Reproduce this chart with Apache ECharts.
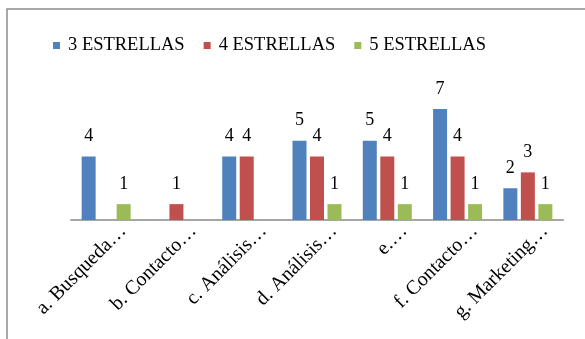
<!DOCTYPE html>
<html>
<head>
<meta charset="utf-8">
<script src="https://cdn.jsdelivr.net/npm/echarts@6/dist/echarts.min.js"></script>
<style>
	html, body { margin: 0; padding: 0; background: #fff; }
	#chart { width: 585px; height: 339px; }
</style>
</head>
<body>
<div id="chart"></div>
<script>
var categorias = ['a. Busqueda…', 'b. Contacto…', 'c. Análisis…', 'd. Análisis…', 'e.…', 'f. Contacto…', 'g. Marketing…'];
var series3 = [4, 0, 4, 5, 5, 7, 2];
var series4 = [0, 1, 4, 4, 4, 4, 3];
var series5 = [1, 0, 0, 1, 1, 1, 1];
var nombres = ['3 ESTRELLAS', '4 ESTRELLAS', '5 ESTRELLAS'];
var colores = ['#4f81bd', '#c0504d', '#9bbb59'];

var fuente = 'Times New Roman, Liberation Serif, serif';

function serie(nombre, datos, color) {
	return {
		name: nombre,
		type: 'bar',
		xAxisIndex: 0,
		yAxisIndex: 0,
		barWidth: 14,
		barGap: '25%',
		itemStyle: { color: color },
		label: {
			show: true,
			position: 'top',
			distance: 11,
			color: '#000',
			fontFamily: fuente,
			fontSize: 18,
			formatter: function (p) {
				return p.value ? p.value : '';
			}
		},
		data: datos
	};
}

var chart = echarts.init(document.getElementById('chart'));
chart.setOption({
	animation: false,
	color: colores,
	graphic: [{
		type: 'rect',
		shape: { x: 7, y: 9, width: 700, height: 500 },
		style: { fill: 'none', stroke: '#8c8c8c', lineWidth: 1.5 },
		silent: true
	}],
	legend: {
		left: 48,
		top: 31,
		itemWidth: 7,
		itemHeight: 7,
		itemGap: 19,
		icon: 'rect',
		textStyle: { fontFamily: fuente, fontSize: 18.5, color: '#000', padding: [0, 0, 0, 3] },
		data: nombres
	},
	grid: [
		{ left: 71, right: 22, top: 93, bottom: 119 },
		// rejilla desplazada solo para colocar las etiquetas giradas como en Excel
		{ left: 88, right: 5, top: 93, bottom: 119 }
	],
	xAxis: [
		{
			type: 'category',
			gridIndex: 0,
			data: categorias,
			axisLine: { lineStyle: { color: '#a6a6a6', width: 2 } },
			axisTick: { show: false },
			axisLabel: { show: false }
		},
		{
			type: 'category',
			gridIndex: 1,
			data: categorias,
			axisLine: { show: false },
			axisTick: { show: false },
			axisLabel: {
				rotate: 45,
				margin: 8,
				interval: 0,
				color: '#000',
				fontFamily: fuente,
				fontSize: 20
			}
		}
	],
	yAxis: [
		{ type: 'value', gridIndex: 0, min: 0, max: 8, show: false },
		{ type: 'value', gridIndex: 1, min: 0, max: 8, show: false }
	],
	series: [
		serie(nombres[0], series3, colores[0]),
		serie(nombres[1], series4, colores[1]),
		serie(nombres[2], series5, colores[2])
	]
});
</script>
</body>
</html>
